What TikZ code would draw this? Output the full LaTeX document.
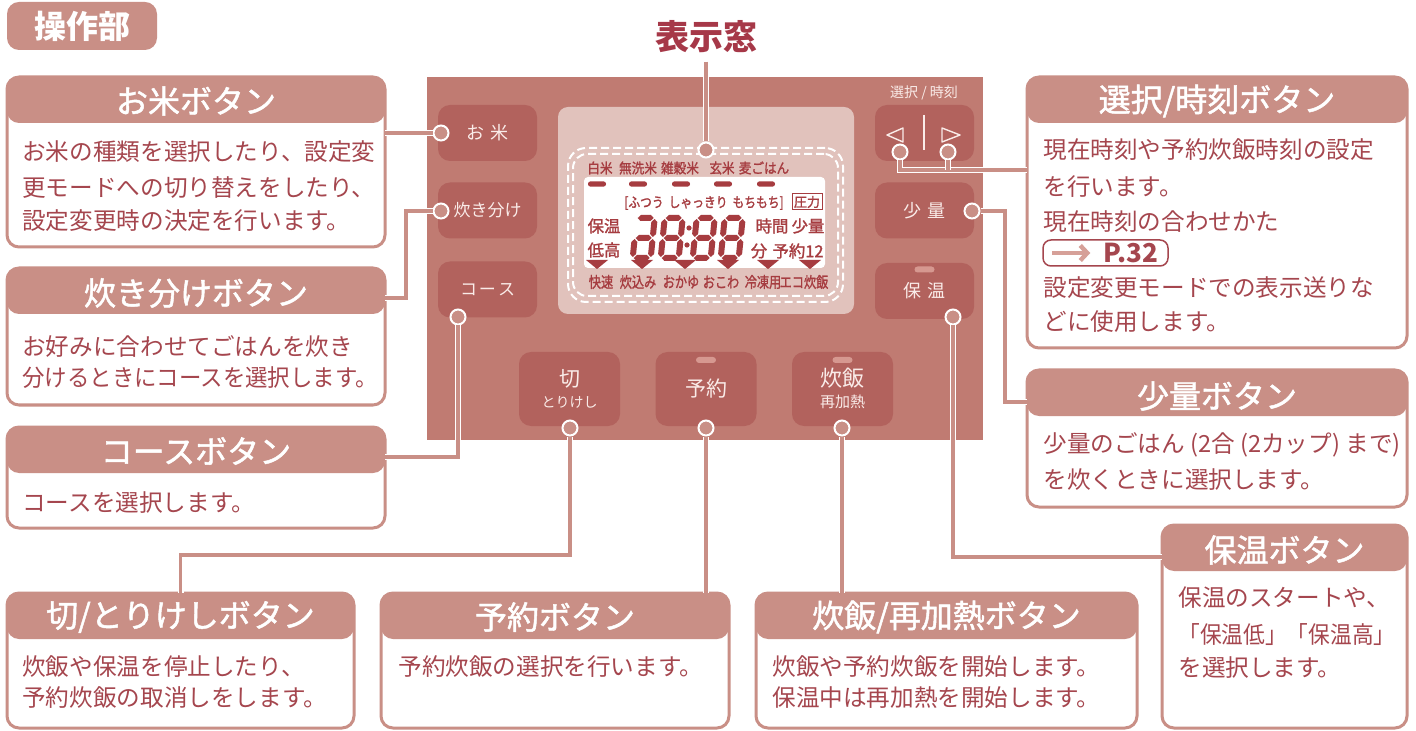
\documentclass[tikz,border=0pt]{standalone}
\usepackage{fontspec}
\setmainfont{Noto Sans CJK JP}
\newfontfamily\jpm{Noto Sans CJK JP}[FakeBold=1.5]
\usetikzlibrary{arrows.meta}
\definecolor{hc}{RGB}{201,143,134}
\definecolor{panelc}{RGB}{192,123,114}
\definecolor{btnc}{RGB}{178,98,93}
\definecolor{dispc}{RGB}{225,194,188}
\definecolor{lcdred}{RGB}{166,60,64}
\definecolor{txtc}{RGB}{165,70,78}
\definecolor{ttlc}{RGB}{166,56,72}
\definecolor{btntxt}{RGB}{250,236,233}
\definecolor{pillc}{RGB}{214,152,144}
\definecolor{arrc}{RGB}{214,160,152}
\newcommand\fsz[1]{\fontsize{#1}{#1}\selectfont}
\newcommand\lcdA{\fill[lcdred] (4,3) -- (7,0) -- (17,0) -- (20,3) -- (17,6) -- (7,6) -- cycle;}
\newcommand\lcdG{\fill[lcdred] (4,23) -- (7,20) -- (17,20) -- (20,23) -- (17,26) -- (7,26) -- cycle;}
\newcommand\lcdD{\fill[lcdred] (4,43) -- (7,40) -- (17,40) -- (20,43) -- (17,46) -- (7,46) -- cycle;}
\newcommand\lcdF{\fill[lcdred] (3,4) -- (6,7) -- (6,19) -- (3,22) -- (0,19) -- (0,7) -- cycle;}
\newcommand\lcdE{\fill[lcdred] (3,24) -- (6,27) -- (6,39) -- (3,42) -- (0,39) -- (0,27) -- cycle;}
\newcommand\lcdB{\fill[lcdred] (21,4) -- (24,7) -- (24,19) -- (21,22) -- (18,19) -- (18,7) -- cycle;}
\newcommand\lcdC{\fill[lcdred] (21,24) -- (24,27) -- (24,39) -- (21,42) -- (18,39) -- (18,27) -- cycle;}
\newcommand\lcddigit[3]{\begin{scope}[shift={(#1,#2)},xslant=0.1] #3 \end{scope}}
\begin{document}
\begin{tikzpicture}[x=0.5pt,y=-0.5pt,
 infobox/.style={draw=hc, line width=1.5pt, fill=white, rounded corners=6pt, inner sep=0, outer sep=0,
   path picture={\fill[hc] (path picture bounding box.north west) rectangle ([yshift=-23pt]path picture bounding box.north east);}},
 hdrtxt/.style={text=white, font=\jpm\fsz{16}, inner sep=0},
 bodytxt/.style={text=txtc, font=\fsz{11.8}, inner sep=0, anchor=west},
 btn/.style={fill=btnc, rounded corners=6pt, minimum width=49.5pt, minimum height=28pt, inner sep=0, text=btntxt, font=\fsz{8.5}},
 bigbtn/.style={btn, minimum width=50.5pt, minimum height=37pt},
 btnlab/.style={text=btntxt, inner sep=0},
 pill/.style={fill=pillc, rounded corners=1.5pt, minimum width=10pt, minimum height=3pt, inner sep=0},
 pincirc/.style={circle, fill=hc, draw=white, line width=1pt, minimum size=7.5pt, inner sep=0},
 conn/.style={draw=white, double=hc, double distance=1.6pt, line width=0.7pt},
 lcdlab/.style={text=lcdred, font=\jpm\fsz{7}, inner sep=0},
 lcdbig/.style={text=lcdred, font=\jpm\fsz{8.2}, inner sep=0},
 lcdbar/.style={fill=lcdred, rounded corners=1.2pt, minimum width=9pt, minimum height=2.6pt, inner sep=0},
 dashbox/.style={draw=white, line width=1pt, dash pattern=on 4pt off 2pt, inner sep=0}
]
\useasboundingbox (0,0) rectangle (1416,731);
\fill[white] (0,0) rectangle (1416,731);

% badge and title
\node[fill=hc, rounded corners=6pt, minimum width=75pt, minimum height=24pt, text=white, font=\bfseries\fsz{16}, inner sep=0] (badge) at (82,26) {操作部};
\node[text=ttlc, font=\bfseries\fsz{17}, inner sep=0] (tHy) at (706,37) {表示窓};

% panel
\node[fill=panelc, minimum width=278pt, minimum height=181.5pt, inner sep=0] (panel) at (705,258.5) {};
\node[fill=dispc, rounded corners=5pt, minimum width=148pt, minimum height=103.5pt, inner sep=0] (disp) at (706,210.5) {};

% buttons
\node[btn, font=\fsz{9}] (bnOk) at (487.5,133) {お\hspace{3pt}米};
\node[btn] (bnTk) at (487.5,210.5) {炊き分け};
\node[btn] (bnCo) at (487.5,289.5) {コ\hspace{1pt}ー\hspace{1pt}ス};
\node[btn] (bnSe) at (924.5,133) {};
\node[btn, font=\fsz{9}] (bnSh) at (924.5,210.5) {少\hspace{3pt}量};
\node[btn, font=\fsz{9}] (bnHo) at (924.5,291) {保\hspace{3pt}温};
\node[pill] (pHo) at (924.5,269.5) {};
\node[bigbtn] (bnKi) at (569.5,389) {};
\node[bigbtn] (bnYo) at (706,389) {};
\node[bigbtn] (bnSu) at (842.5,389) {};
\node[pill] (pYo) at (706,360) {};
\node[pill] (pSu) at (842.5,360) {};
\node[btnlab, font=\fsz{10.5}] (lKi1) at (569.5,379) {切};
\node[btnlab, font=\fsz{7}] (lKi2) at (569.5,402) {とりけし};
\node[btnlab, font=\fsz{10.5}] (lYo) at (706,389) {予約};
\node[btnlab, font=\fsz{11}] (lSu1) at (842.5,378) {炊飯};
\node[btnlab, font=\fsz{7.5}] (lSu2) at (842.5,402) {再加熱};
\node[btnlab, font=\fsz{7}] (lSe) at (924,93) {選択 / 時刻};
\draw[btntxt, line width=0.7pt, line join=round] (903,128) -- (887,135) -- (903,142) -- cycle;
\draw[btntxt, line width=0.7pt, line join=round] (942,128) -- (960,135) -- (942,142) -- cycle;
\draw[btntxt, line width=0.8pt] (924,115) -- (924,150);

% display
\node[dashbox, rounded corners=9pt, minimum width=137.5pt, minimum height=77pt] (dash1) at (705.5,225) {};
\node[dashbox, rounded corners=7pt, minimum width=132.5pt, minimum height=71pt] (dash2) at (705.5,225) {};
\node[fill=white, rounded corners=2pt, minimum width=120.5pt, minimum height=45.5pt, inner sep=0] (lcd) at (704.5,222.5) {};
\foreach \x/\t [count=\i] in {600/白米, 638/無洗米, 680/雑穀米, 722/玄米, 764/麦ごはん}
  \node[lcdlab] (top\i) at (\x,168) {\scalebox{0.9}[1]{\t}};
\foreach \x [count=\i] in {597,638,681,723,766}
  \node[lcdbar] (bar\i) at (\x,184) {};
\node[lcdlab] (kind) at (704,203) {\scalebox{0.84}[1]{[ふつう\hspace{3pt}しゃっきり\hspace{3pt}もちもち]}};
\node[lcdlab, font=\jpm\fsz{6.5}, draw=lcdred, line width=0.5pt, minimum width=15pt, minimum height=8pt] (atsu) at (807,202) {圧力};
\node[lcdbig] (hoL1) at (604,226) {保温};
\node[lcdbig] (hoL2) at (604,250) {低高};
\node[lcdbig] (jikan) at (772,226) {時間};
\node[lcdbig] (shoL) at (808,226) {少量};
\node[lcdbig] (fun) at (759,251) {分};
\node[lcdbig] (yoL) at (798,251) {予約12};
\lcddigit{634}{215}{\lcdA\lcdB\lcdC\lcdD\lcdE\lcdG}
\lcddigit{662}{215}{\lcdA\lcdB\lcdC\lcdD\lcdE\lcdF\lcdG}
\lcddigit{694}{215}{\lcdA\lcdB\lcdC\lcdD\lcdE\lcdF\lcdG}
\lcddigit{722}{215}{\lcdA\lcdB\lcdC\lcdD\lcdE\lcdF\lcdG}
\fill[lcdred] (689,228) circle (2.6);
\fill[lcdred] (687,245) circle (2.6);
\foreach \x in {597,642,685,728,768,810}
  \fill[lcdred] (\x-11,260) -- (\x+11,260) -- (\x,269) -- cycle;
\foreach \x/\t [count=\i] in {601/快速, 638/炊込み, 681/おかゆ, 721/おこわ, 763/冷凍用, 804/エコ炊飯}
  \node[lcdlab, font=\jpm\fsz{7.6}] (bot\i) at (\x,282) {\scalebox{0.8}[1]{\t}};

% pins
\node[pincirc] (cOk) at (441,133) {};
\node[pincirc] (cTk) at (441,211) {};
\node[pincirc] (cCo) at (458,317) {};
\node[pincirc] (cSe1) at (900,152) {};
\node[pincirc] (cSe2) at (948,152) {};
\node[pincirc] (cSh) at (972,211) {};
\node[pincirc] (cHo) at (953,317) {};
\node[pincirc] (cKi) at (570,428) {};
\node[pincirc] (cYo) at (706,428) {};
\node[pincirc] (cSu) at (842,428) {};
\node[pincirc] (cHy) at (706,150) {};

% info boxes
\node[infobox, minimum width=189pt, minimum height=85pt] (bOk) at (196,162) {};
\node[infobox, minimum width=189pt, minimum height=68.5pt] (bTk) at (196,336.5) {};
\node[infobox, minimum width=189pt, minimum height=50.5pt] (bCo) at (196,477.5) {};
\node[infobox, minimum width=173.5pt, minimum height=67.5pt] (bKi) at (180.5,660.5) {};
\node[infobox, minimum width=174pt, minimum height=67.5pt] (bYo) at (555,660.5) {};
\node[infobox, minimum width=190.5pt, minimum height=67.5pt] (bSu) at (946.5,660.5) {};
\node[infobox, minimum width=122.5pt, minimum height=101.5pt] (bHo) at (1284.5,626.5) {};
\node[infobox, minimum width=190pt, minimum height=68.5pt] (bSh) at (1217,438.5) {};
\node[infobox, minimum width=190pt, minimum height=135.5pt] (bSe) at (1217,212.5) {};

\node[hdrtxt] (hOk) at (196,101) {お米ボタン};
\node[hdrtxt] (hTk) at (196,293) {炊き分けボタン};
\node[hdrtxt] (hCo) at (196,451) {コースボタン};
\node[hdrtxt] (hKi) at (180.5,617) {切/とりけしボタン};
\node[hdrtxt] (hYo) at (555,617) {予約ボタン};
\node[hdrtxt] (hSu) at (946.5,617) {炊飯/再加熱ボタン};
\node[hdrtxt] (hHo) at (1284.5,550) {保温ボタン};
\node[hdrtxt] (hSh) at (1217,396) {少量ボタン};
\node[hdrtxt] (hSe) at (1217,101) {選択/時刻ボタン};

\node[bodytxt] (tOk1) at (22,152) {お米の種類を選択したり、設定変};
\node[bodytxt] (tOk2) at (22,188) {更モードへの切り替えをしたり、};
\node[bodytxt] (tOk3) at (22,221) {設定変更時の決定を行います。};
\node[bodytxt] (tTk1) at (22,347) {お好みに合わせてごはんを炊き};
\node[bodytxt] (tTk2) at (22,378) {\scalebox{0.95}[1]{分けるときにコースを選択します。}};
\node[bodytxt] (tCo1) at (22,503) {コースを選択します。};
\node[bodytxt] (tKi1) at (22,667) {炊飯や保温を停止したり、};
\node[bodytxt] (tKi2) at (22,698) {予約炊飯の取消しをします。};
\node[bodytxt] (tYo1) at (398,667) {予約炊飯の選択を行います。};
\node[bodytxt] (tSu1) at (772,667) {炊飯や予約炊飯を開始します。};
\node[bodytxt] (tSu2) at (772,698) {保温中は再加熱を開始します。};
\node[bodytxt] (tHo1) at (1178,598) {保温のスタートや、};
\node[bodytxt] (tHo2) at (1178,635) {\scalebox{0.92}[1]{「保温低」「保温高」}};
\node[bodytxt] (tHo3) at (1178,668) {を選択します。};
\node[bodytxt] (tSh1) at (1043,445) {少量のごはん (2合 (2カップ) まで)};
\node[bodytxt] (tSh2) at (1043,480) {を炊くときに選択します。};
\node[bodytxt] (tSe1) at (1043,150) {現在時刻や予約炊飯時刻の設定};
\node[bodytxt] (tSe2) at (1043,187) {を行います。};
\node[bodytxt] (tSe3) at (1043,222) {現在時刻の合わせかた};
\node[bodytxt] (tSe4) at (1043,288) {設定変更モードでの表示送りな};
\node[bodytxt] (tSe5) at (1043,322) {どに使用します。};
\node[draw=txtc, line width=0.75pt, rounded corners=4pt, minimum width=62.5pt, minimum height=13pt, inner sep=0] (pref) at (1105.5,253) {};
\draw[arrc, line width=2.2pt, -{Straight Barb[length=3.5pt,width=7.5pt]}] ([xshift=5pt]pref.west) -- ([xshift=24pt]pref.west);
\node[text=txtc, font=\bfseries\fsz{13}, inner sep=0, anchor=east] (p32) at ([xshift=-5pt]pref.east) {P.32};

% connectors
\coordinate (kTk) at (406,298);
\coordinate (kCo) at (458,457);
\coordinate (kKi) at (570,555);
\coordinate (kHo) at (953,557);
\coordinate (kSh) at (1005,402);
\coordinate (kSe) at (900,170);
\draw[conn] (cOk.west) -- (bOk.east |- cOk);
\draw[conn] (cTk.west) -| (kTk) -- (bTk.east |- kTk);
\draw[conn] (cCo.south) -- (kCo) -- (bCo.east |- kCo);
\draw[conn] (cKi.south) -- (kKi) -| (bKi.north);
\draw[conn] (cYo.south) -- (cYo.south |- bYo.north);
\draw[conn] (cSu.south) -- (cSu.south |- bSu.north);
\draw[conn] (cHo.south) -- (kHo) -- (bHo.west |- kHo);
\draw[conn] (cSh.east) -| (kSh) -- (bSh.west |- kSh);
\draw[conn] (cSe1.south) -- (kSe) -- (bSe.west |- kSe);
\draw[conn] (cSe2.south) -- (cSe2.south |- kSe);
\draw[conn, shorten <=4pt] (tHy.south) -- (cHy.north);
\end{tikzpicture}
\end{document}
